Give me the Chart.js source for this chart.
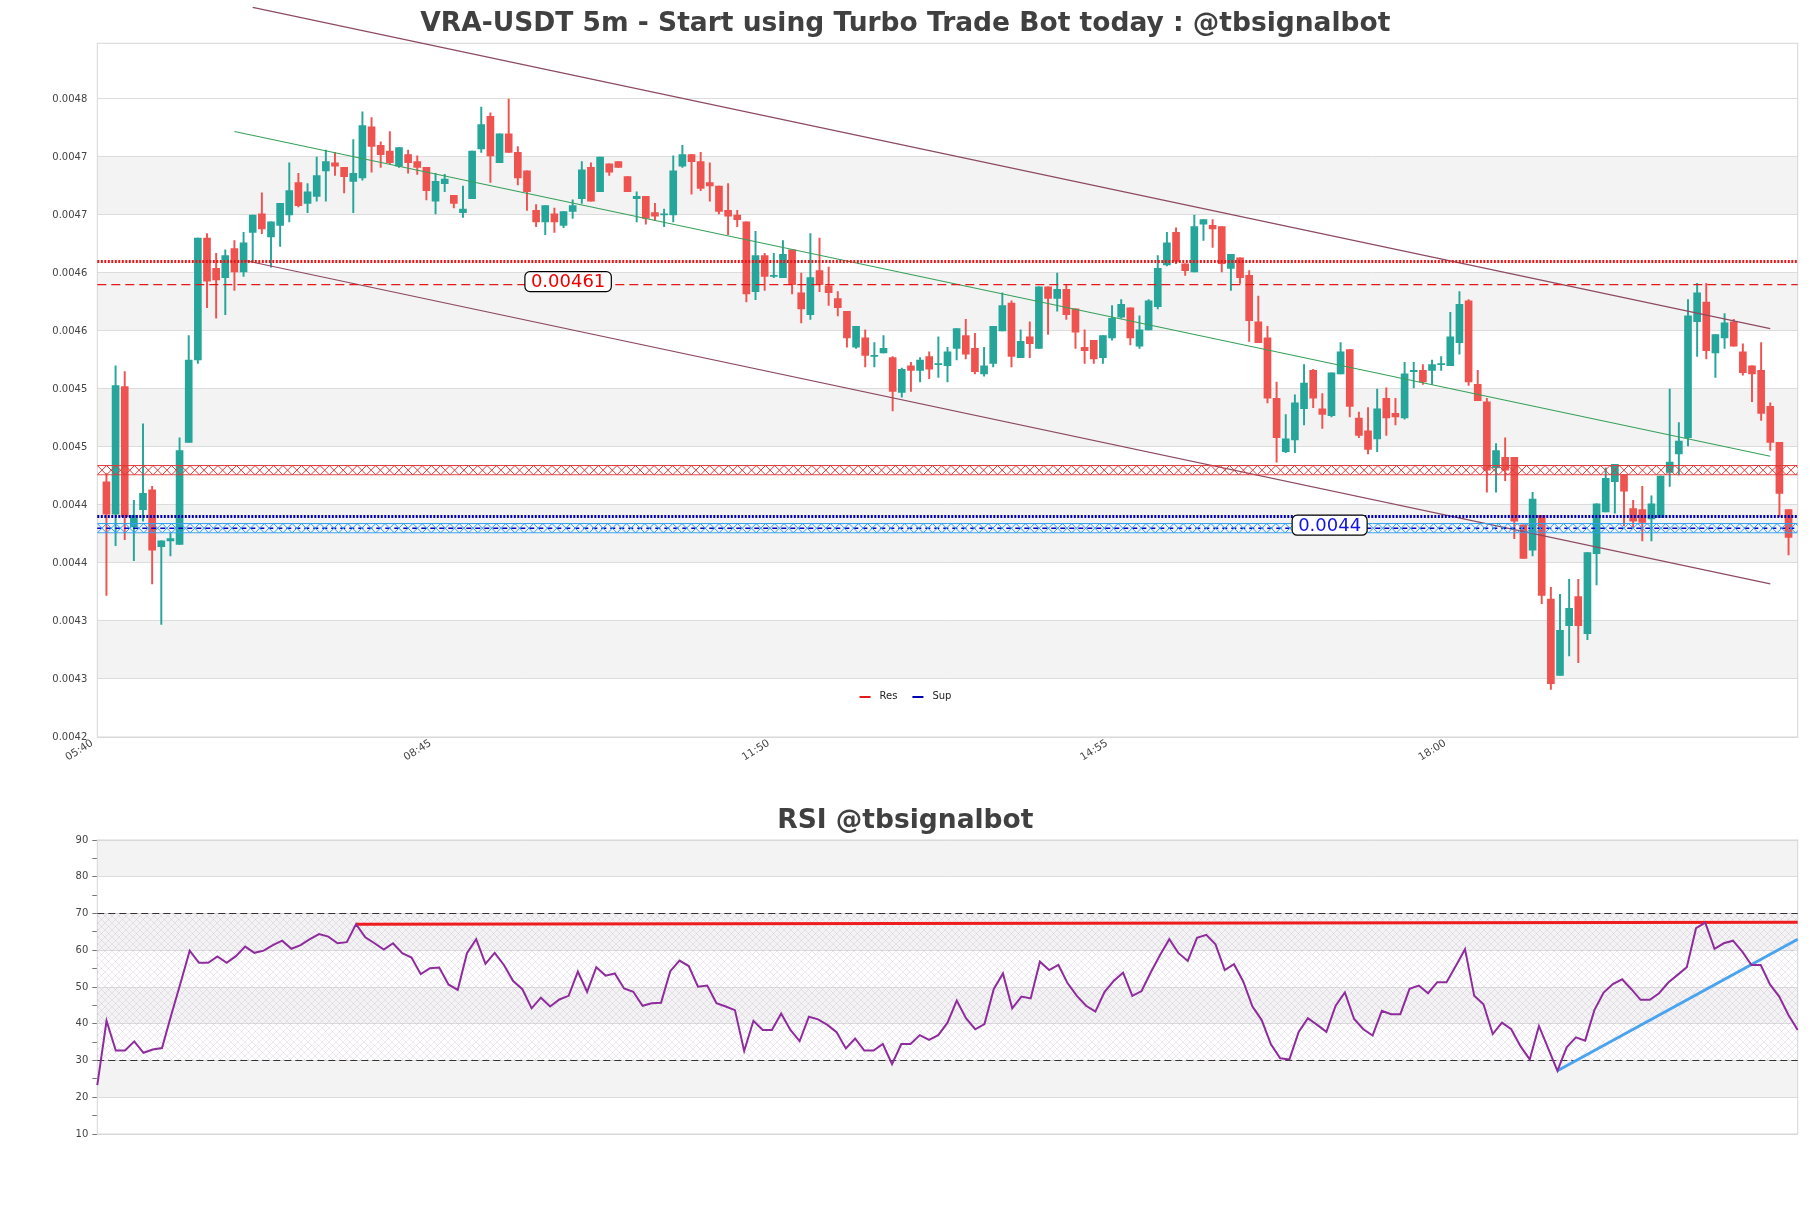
<!DOCTYPE html>
<html>
<head>
<meta charset="utf-8">
<title>VRA-USDT 5m</title>
<script src="https://cdn.jsdelivr.net/npm/chart.js@4.4.0/dist/chart.umd.min.js"></script>
<style>
  html, body { margin: 0; padding: 0; background: #fff; }
  #wrap { position: relative; width: 1811px; height: 1208px; }
  #priceBox { position: absolute; left: 0; top: 0; width: 1811px; height: 790px; }
  #rsiBox { position: absolute; left: 0; top: 790px; width: 1811px; height: 418px; }
</style>
</head>
<body>
<div id="wrap">
  <div id="priceBox"><canvas id="priceChart"></canvas></div>
  <div id="rsiBox"><canvas id="rsiChart"></canvas></div>
</div>
<script>
// Bougies 5m, de 05:45 à 21:05
const opens = [0.004440, 0.004412, 0.004522, 0.004401, 0.004416, 0.004433, 0.004384, 0.004389, 0.004386, 0.004474,
  0.004545, 0.004650, 0.004624, 0.004616, 0.004641, 0.004621, 0.004655, 0.004671, 0.004651, 0.004661,
  0.004670, 0.004698, 0.004680, 0.004686, 0.004708, 0.004715, 0.004711, 0.004699, 0.004702, 0.004746,
  0.004730, 0.004725, 0.004712, 0.004722, 0.004716, 0.004711, 0.004682, 0.004697, 0.004687, 0.004672,
  0.004684, 0.004727, 0.004755, 0.004715, 0.004740, 0.004724, 0.004708, 0.004674, 0.004664, 0.004671,
  0.004661, 0.004673, 0.004684, 0.004711, 0.004690, 0.004714, 0.004716, 0.004703, 0.004684, 0.004686,
  0.004672, 0.004670, 0.004670, 0.004712, 0.004722, 0.004716, 0.004698, 0.004695, 0.004674, 0.004670,
  0.004664, 0.004604, 0.004635, 0.004617, 0.004616, 0.004640, 0.004603, 0.004584, 0.004622, 0.004609,
  0.004598, 0.004587, 0.004556, 0.004564, 0.004548, 0.004551, 0.004547, 0.004517, 0.004540, 0.004536,
  0.004548, 0.004541, 0.004540, 0.004555, 0.004566, 0.004555, 0.004533, 0.004542, 0.004570, 0.004594,
  0.004547, 0.004565, 0.004555, 0.004608, 0.004598, 0.004606, 0.004589, 0.004556, 0.004562, 0.004547,
  0.004564, 0.004582, 0.004590, 0.004557, 0.004571, 0.004591, 0.004627, 0.004655, 0.004628, 0.004621,
  0.004662, 0.004661, 0.004660, 0.004624, 0.004633, 0.004618, 0.004578, 0.004564, 0.004512, 0.004466,
  0.004476, 0.004503, 0.004536, 0.004503, 0.004497, 0.004533, 0.004554, 0.004495, 0.004484, 0.004477,
  0.004512, 0.004499, 0.004495, 0.004535, 0.004536, 0.004536, 0.004541, 0.004540, 0.004560, 0.004596,
  0.004524, 0.004509, 0.004452, 0.004461, 0.004461, 0.004403, 0.004381, 0.004411, 0.004339, 0.004273,
  0.004316, 0.004341, 0.004309, 0.004378, 0.004414, 0.004440, 0.004446, 0.004417, 0.004416, 0.004408,
  0.004409, 0.004448, 0.004464, 0.004478, 0.004578, 0.004595, 0.004551, 0.004564, 0.004578, 0.004552,
  0.004540, 0.004536, 0.004505, 0.004474, 0.004416];
const highs = [0.004447, 0.004540, 0.004535, 0.004424, 0.004490, 0.004436, 0.004389, 0.004396, 0.004478, 0.004566,
  0.004650, 0.004654, 0.004637, 0.004640, 0.004648, 0.004655, 0.004670, 0.004689, 0.004664, 0.004680,
  0.004715, 0.004706, 0.004697, 0.004720, 0.004726, 0.004724, 0.004711, 0.004735, 0.004759, 0.004754,
  0.004733, 0.004742, 0.004728, 0.004726, 0.004721, 0.004711, 0.004706, 0.004705, 0.004687, 0.004695,
  0.004725, 0.004763, 0.004758, 0.004740, 0.004770, 0.004729, 0.004708, 0.004679, 0.004678, 0.004676,
  0.004673, 0.004683, 0.004716, 0.004715, 0.004720, 0.004714, 0.004716, 0.004703, 0.004690, 0.004686,
  0.004680, 0.004675, 0.004721, 0.004730, 0.004722, 0.004724, 0.004715, 0.004695, 0.004697, 0.004674,
  0.004664, 0.004656, 0.004637, 0.004637, 0.004648, 0.004640, 0.004620, 0.004654, 0.004650, 0.004625,
  0.004604, 0.004587, 0.004574, 0.004571, 0.004560, 0.004566, 0.004548, 0.004538, 0.004543, 0.004547,
  0.004552, 0.004565, 0.004556, 0.004572, 0.004580, 0.004568, 0.004556, 0.004574, 0.004603, 0.004596,
  0.004571, 0.004578, 0.004608, 0.004608, 0.004620, 0.004610, 0.004589, 0.004571, 0.004562, 0.004566,
  0.004592, 0.004597, 0.004590, 0.004583, 0.004597, 0.004635, 0.004655, 0.004659, 0.004628, 0.004670,
  0.004666, 0.004666, 0.004660, 0.004636, 0.004633, 0.004622, 0.004600, 0.004574, 0.004526, 0.004498,
  0.004515, 0.004541, 0.004537, 0.004516, 0.004534, 0.004560, 0.004554, 0.004500, 0.004504, 0.004520,
  0.004521, 0.004512, 0.004543, 0.004543, 0.004541, 0.004545, 0.004548, 0.004586, 0.004604, 0.004597,
  0.004536, 0.004512, 0.004473, 0.004478, 0.004461, 0.004403, 0.004431, 0.004411, 0.004349, 0.004343,
  0.004356, 0.004356, 0.004379, 0.004421, 0.004452, 0.004455, 0.004446, 0.004424, 0.004436, 0.004428,
  0.004445, 0.004520, 0.004491, 0.004597, 0.004611, 0.004611, 0.004567, 0.004585, 0.004580, 0.004559,
  0.004540, 0.004560, 0.004508, 0.004474, 0.004416];
const lows = [0.004342, 0.004385, 0.004390, 0.004372, 0.004406, 0.004352, 0.004317, 0.004376, 0.004386, 0.004474,
  0.004542, 0.004590, 0.004581, 0.004584, 0.004605, 0.004617, 0.004630, 0.004654, 0.004625, 0.004643,
  0.004664, 0.004677, 0.004672, 0.004682, 0.004682, 0.004704, 0.004689, 0.004672, 0.004700, 0.004707,
  0.004711, 0.004714, 0.004711, 0.004706, 0.004705, 0.004683, 0.004671, 0.004690, 0.004676, 0.004668,
  0.004684, 0.004724, 0.004698, 0.004715, 0.004724, 0.004696, 0.004674, 0.004660, 0.004653, 0.004655,
  0.004659, 0.004667, 0.004680, 0.004682, 0.004690, 0.004704, 0.004711, 0.004690, 0.004664, 0.004662,
  0.004665, 0.004660, 0.004664, 0.004711, 0.004688, 0.004691, 0.004682, 0.004671, 0.004653, 0.004660,
  0.004595, 0.004597, 0.004605, 0.004616, 0.004616, 0.004602, 0.004577, 0.004580, 0.004604, 0.004592,
  0.004583, 0.004556, 0.004555, 0.004539, 0.004539, 0.004551, 0.004501, 0.004513, 0.004518, 0.004526,
  0.004529, 0.004530, 0.004526, 0.004545, 0.004546, 0.004533, 0.004531, 0.004539, 0.004570, 0.004539,
  0.004547, 0.004547, 0.004555, 0.004567, 0.004587, 0.004580, 0.004555, 0.004542, 0.004542, 0.004542,
  0.004562, 0.004581, 0.004558, 0.004555, 0.004571, 0.004589, 0.004626, 0.004628, 0.004618, 0.004621,
  0.004648, 0.004642, 0.004621, 0.004605, 0.004611, 0.004561, 0.004560, 0.004508, 0.004457, 0.004465,
  0.004465, 0.004489, 0.004504, 0.004486, 0.004496, 0.004533, 0.004496, 0.004478, 0.004464, 0.004466,
  0.004480, 0.004489, 0.004494, 0.004521, 0.004524, 0.004524, 0.004536, 0.004540, 0.004550, 0.004523,
  0.004510, 0.004431, 0.004431, 0.004441, 0.004391, 0.004374, 0.004376, 0.004335, 0.004261, 0.004273,
  0.004290, 0.004284, 0.004304, 0.004351, 0.004414, 0.004413, 0.004402, 0.004400, 0.004389, 0.004389,
  0.004409, 0.004436, 0.004446, 0.004471, 0.004548, 0.004546, 0.004530, 0.004555, 0.004557, 0.004532,
  0.004509, 0.004493, 0.004467, 0.004410, 0.004377];
const closes = [0.004412, 0.004523, 0.004410, 0.004411, 0.004430, 0.004381, 0.004389, 0.004391, 0.004467, 0.004545,
  0.004650, 0.004613, 0.004614, 0.004635, 0.004621, 0.004646, 0.004670, 0.004658, 0.004664, 0.004680,
  0.004691, 0.004678, 0.004690, 0.004704, 0.004716, 0.004712, 0.004703, 0.004706, 0.004747, 0.004729,
  0.004722, 0.004715, 0.004728, 0.004715, 0.004711, 0.004691, 0.004699, 0.004701, 0.004680, 0.004675,
  0.004725, 0.004748, 0.004721, 0.004740, 0.004724, 0.004702, 0.004690, 0.004664, 0.004678, 0.004664,
  0.004673, 0.004678, 0.004709, 0.004682, 0.004720, 0.004707, 0.004711, 0.004690, 0.004686, 0.004667,
  0.004669, 0.004671, 0.004708, 0.004722, 0.004716, 0.004693, 0.004695, 0.004673, 0.004669, 0.004666,
  0.004602, 0.004635, 0.004617, 0.004618, 0.004636, 0.004610, 0.004589, 0.004616, 0.004610, 0.004603,
  0.004590, 0.004564, 0.004574, 0.004549, 0.004549, 0.004555, 0.004518, 0.004537, 0.004536, 0.004545,
  0.004537, 0.004542, 0.004552, 0.004572, 0.004550, 0.004535, 0.004540, 0.004574, 0.004592, 0.004548,
  0.004561, 0.004559, 0.004608, 0.004598, 0.004606, 0.004584, 0.004569, 0.004553, 0.004546, 0.004566,
  0.004581, 0.004593, 0.004564, 0.004571, 0.004596, 0.004624, 0.004646, 0.004630, 0.004622, 0.004660,
  0.004666, 0.004658, 0.004628, 0.004636, 0.004616, 0.004579, 0.004560, 0.004512, 0.004478, 0.004477,
  0.004508, 0.004525, 0.004512, 0.004498, 0.004534, 0.004552, 0.004505, 0.004480, 0.004468, 0.004503,
  0.004495, 0.004496, 0.004533, 0.004536, 0.004526, 0.004541, 0.004542, 0.004565, 0.004593, 0.004526,
  0.004510, 0.004450, 0.004467, 0.004450, 0.004406, 0.004374, 0.004425, 0.004342, 0.004266, 0.004312,
  0.004331, 0.004316, 0.004379, 0.004421, 0.004443, 0.004455, 0.004432, 0.004406, 0.004405, 0.004421,
  0.004445, 0.004457, 0.004475, 0.004583, 0.004603, 0.004553, 0.004567, 0.004577, 0.004557, 0.004534,
  0.004533, 0.004499, 0.004474, 0.004430, 0.004392];

// Axe des temps (index de bougie -> libellé)
const timeTickPos = [-1, 36, 73, 110, 147];
const timeTickLabels = ['05:40', '08:45', '11:50', '14:55', '18:00'];

// Axe des prix
const priceTicks = [0.00422, 0.00427, 0.00432, 0.00437, 0.00442, 0.00447, 0.00452, 0.00457, 0.00462, 0.00467, 0.00472, 0.00477];
const priceBands = [[0.00427, 0.00432], [0.00437, 0.00442], [0.00447, 0.00452], [0.00457, 0.00462], [0.00467, 0.00472]];

// Résistances / supports
const resLevel = 0.00463;
const resPrice = 0.00461;
const resZone = [0.004446, 0.004454];
const supLevel = 0.00441;
const supPrice = 0.0044;
const supZone = [0.004396, 0.004404];

// Canal de tendance : [index, prix]
const channelTop = [[16, 0.004849], [182, 0.004572]];
const channelBottom = [[15, 0.004631], [182, 0.004352]];
const channelMid = [[14, 0.004742], [182, 0.004462]];

// RSI
const rsiValues = [23.3, 40.8, 32.7, 32.7, 35.2, 32.1, 33.0, 33.4, 42.4, 51.0,
  59.9, 56.6, 56.6, 58.3, 56.6, 58.4, 61.0, 59.3, 59.9, 61.4,
  62.6, 60.4, 61.4, 63.0, 64.4, 63.7, 61.9, 62.2, 67.1, 63.5,
  61.9, 60.2, 61.9, 59.2, 58.0, 53.5, 55.1, 55.3, 50.7, 49.2,
  59.2, 63.0, 56.3, 59.3, 56.0, 51.6, 49.4, 44.2, 47.1, 44.7,
  46.6, 47.6, 54.2, 48.7, 55.4, 53.1, 53.7, 49.6, 48.7, 44.9,
  45.6, 45.7, 54.3, 57.2, 55.7, 50.1, 50.4, 45.6, 44.7, 43.7,
  32.6, 40.8, 38.3, 38.3, 42.8, 38.3, 35.3, 41.9, 41.2, 39.7,
  37.7, 33.3, 36.0, 32.7, 32.7, 34.5, 29.0, 34.5, 34.5, 36.9,
  35.6, 36.9, 40.3, 46.3, 41.5, 38.5, 39.9, 49.4, 53.7, 44.2,
  47.4, 46.9, 56.9, 54.6, 56.0, 51.0, 47.6, 44.9, 43.3, 48.7,
  51.7, 53.9, 47.6, 48.9, 54.0, 58.7, 63.0, 59.2, 57.1, 63.4,
  64.2, 61.6, 54.6, 56.2, 51.5, 44.7, 41.0, 34.4, 30.6, 30.3,
  37.8, 41.5, 39.7, 37.8, 44.9, 48.5, 41.3, 38.5, 36.8, 43.5,
  42.6, 42.6, 49.5, 50.4, 48.3, 51.3, 51.3, 55.7, 60.3, 47.6,
  45.3, 37.2, 40.3, 38.5, 33.9, 30.3, 39.4, 33.3, 27.2, 33.6,
  36.3, 35.4, 43.7, 48.5, 50.8, 52.1, 49.4, 46.5, 46.5, 48.3,
  51.2, 53.3, 55.4, 66.0, 67.5, 60.4, 61.9, 62.6, 59.6, 56.0,
  56.0, 50.7, 47.4, 42.4, 38.3];
const rsiBands = [[20, 30], [40, 50], [60, 70], [80, 90]];
const rsiLevels = [30, 70];
const rsiResLine = [[28, 67.1], [184, 67.6]];
const rsiSupLine = [[158, 27.2], [184, 63.0]];

const FONT = 'DejaVu Sans';
const UP = '#26a69a';
const DOWN = '#ef5350';
const RED = '#e31a1c';
const BLUE = '#0000b0';

// ---------- plugins ----------
const bandsPlugin = {
  id: 'bands',
  beforeDraw(chart, args, opts) {
    const { ctx, chartArea: a, scales: { y } } = chart;
    ctx.save();
    ctx.fillStyle = opts.color;
    opts.bands.forEach(([lo, hi]) => {
      const top = y.getPixelForValue(hi);
      const bot = y.getPixelForValue(lo);
      ctx.fillRect(a.left, top, a.right - a.left, bot - top);
    });
    ctx.restore();
  }
};

const framePlugin = {
  id: 'frame',
  beforeDatasetsDraw(chart) {
    const { ctx, chartArea: a } = chart;
    ctx.save();
    ctx.strokeStyle = '#d6d6d6';
    ctx.lineWidth = 1;
    ctx.strokeRect(a.left, a.top, a.right - a.left, a.bottom - a.top);
    ctx.restore();
  }
};

// zones hachurées (x) entre deux prix
const zonesPlugin = {
  id: 'zones',
  afterDatasetsDraw(chart, args, opts) {
    const { ctx, chartArea: a, scales: { y } } = chart;
    opts.zones.forEach(z => {
      const top = y.getPixelForValue(z.range[1]);
      const bot = y.getPixelForValue(z.range[0]);
      const cell = bot - top;
      ctx.save();
      ctx.beginPath();
      ctx.rect(a.left, top - 1, a.right - a.left, cell + 2);
      ctx.clip();
      ctx.strokeStyle = z.color;
      ctx.lineWidth = 1;
      ctx.beginPath();
      for (let x = a.left; x < a.right; x += cell) {
        ctx.moveTo(x, top); ctx.lineTo(x + cell, bot);
        ctx.moveTo(x + cell, top); ctx.lineTo(x, bot);
      }
      ctx.moveTo(a.left, top); ctx.lineTo(a.right, top);
      ctx.moveTo(a.left, bot); ctx.lineTo(a.right, bot);
      ctx.stroke();
      ctx.restore();
    });
  }
};

function roundBox(ctx, x, y, w, h, r) {
  ctx.beginPath();
  ctx.moveTo(x + r, y);
  ctx.arcTo(x + w, y, x + w, y + h, r);
  ctx.arcTo(x + w, y + h, x, y + h, r);
  ctx.arcTo(x, y + h, x, y, r);
  ctx.arcTo(x, y, x + w, y, r);
  ctx.closePath();
}

// étiquettes de prix
const tagsPlugin = {
  id: 'tags',
  afterDatasetsDraw(chart, args, opts) {
    const { ctx, scales: { x, y } } = chart;
    ctx.save();
    ctx.font = '18px "' + FONT + '"';
    ctx.textAlign = 'center';
    ctx.textBaseline = 'middle';
    opts.tags.forEach(t => {
      const text = String(t.value);
      const cx = x.getPixelForValue(t.at);
      const cy = y.getPixelForValue(t.value) - 3;
      const w = ctx.measureText(text).width + 12;
      const h = 20;
      roundBox(ctx, cx - w / 2, cy - h / 2, w, h, 5);
      ctx.fillStyle = '#fff';
      ctx.fill();
      ctx.strokeStyle = '#000';
      ctx.lineWidth = 1.2;
      ctx.stroke();
      ctx.fillStyle = t.color;
      ctx.fillText(text, cx, cy + 1);
    });
    ctx.restore();
  }
};

// petite légende Res / Sup, centrée sur la figure
const miniLegendPlugin = {
  id: 'miniLegend',
  afterDraw(chart, args, opts) {
    const { ctx, chartArea: a } = chart;
    ctx.save();
    ctx.font = '10px "' + FONT + '"';
    ctx.textBaseline = 'middle';
    const widths = opts.items.map(it => 11 + 9 + ctx.measureText(it.label).width);
    const total = widths.reduce((s, w) => s + w, 0) + 15 * (opts.items.length - 1);
    let x = chart.width / 2 - total / 2;
    const y = a.bottom - 41;
    opts.items.forEach((it, k) => {
      ctx.strokeStyle = it.color;
      ctx.lineWidth = 2;
      ctx.beginPath();
      ctx.moveTo(x, y + 1); ctx.lineTo(x + 11, y + 1);
      ctx.stroke();
      ctx.fillStyle = '#222';
      ctx.fillText(it.label, x + 20, y);
      x += widths[k] + 15;
    });
    ctx.restore();
  }
};

// hachures de la zone 30-70 du RSI
const rsiHatchPlugin = {
  id: 'rsiHatch',
  beforeDatasetsDraw(chart, args, opts) {
    const { ctx, chartArea: a, scales: { y } } = chart;
    const tile = document.createElement('canvas');
    tile.width = 7; tile.height = 7;
    const g = tile.getContext('2d');
    g.strokeStyle = opts.color;
    g.lineWidth = 0.8;
    g.beginPath();
    g.moveTo(0, 0); g.lineTo(7, 7);
    g.moveTo(7, 0); g.lineTo(0, 7);
    g.stroke();
    const top = y.getPixelForValue(opts.range[1]);
    const bot = y.getPixelForValue(opts.range[0]);
    ctx.save();
    ctx.fillStyle = ctx.createPattern(tile, 'repeat');
    ctx.fillRect(a.left, top, a.right - a.left, bot - top);
    ctx.restore();
  }
};

// ---------- graphique des prix ----------
const candleColors = opens.map((o, i) => closes[i] >= o ? UP : DOWN);
const bodies = opens.map((o, i) => ({ x: i, y: [o, closes[i]] }));
const wicks = lows.map((l, i) => ({ x: i, y: [l, highs[i]] }));
const xMin = timeTickPos[0];
const xMax = opens.length;

function flat(v) {
  return [{ x: xMin, y: v }, { x: xMax, y: v }];
}
function seg(pts) {
  return pts.map(p => ({ x: p[0], y: p[1] }));
}
function lineSet(data, color, width, dash) {
  return {
    type: 'line', data, borderColor: color, borderWidth: width, borderDash: dash || [],
    pointRadius: 0, fill: false, tension: 0, clip: false, order: 1
  };
}

Chart.defaults.font.family = FONT;

new Chart(document.getElementById('priceChart'), {
  data: {
    datasets: [
      { type: 'bar', label: 'body', data: bodies, backgroundColor: candleColors,
        barThickness: 7, grouped: false, minBarLength: 1, order: 2 },
      { type: 'bar', label: 'wick', data: wicks, backgroundColor: candleColors,
        barThickness: 1.3, grouped: false, order: 3 },
      lineSet(flat(resLevel), RED, 3, [2, 1.5]),
      lineSet(flat(resPrice), RED, 1.3, [9, 5]),
      lineSet(flat(supLevel), BLUE, 3, [2, 1.5]),
      lineSet(flat(supPrice), '#0000cc', 1.4, [5, 4]),
      lineSet(seg(channelTop), '#8d4a62', 1.2),
      lineSet(seg(channelBottom), '#8d4a62', 1.2),
      lineSet(seg(channelMid), '#37a05a', 1.2)
    ]
  },
  options: {
    responsive: true,
    maintainAspectRatio: false,
    animation: false,
    devicePixelRatio: 1,
    events: [],
    layout: { padding: { left: 13, right: 13.3, top: 0, bottom: 0 } },
    plugins: {
      legend: { display: false },
      tooltip: { enabled: false },
      title: {
        display: true,
        text: 'VRA-USDT 5m - Start using Turbo Trade Bot today : @tbsignalbot',
        color: '#404040',
        font: { family: FONT, size: 26.5, weight: 'bold' },
        padding: { top: 8, bottom: 3.5 }
      },
      bands: { bands: priceBands, color: '#f3f3f3' },
      zones: { zones: [
        { range: resZone, color: '#e03a3a' },
        { range: supZone, color: '#2f9ff0' }
      ] },
      tags: { tags: [
        { value: resPrice, at: 50.5, color: '#ee0000' },
        { value: supPrice, at: 133.8, color: '#1414e0' }
      ] },
      miniLegend: { items: [
        { label: 'Res', color: RED },
        { label: 'Sup', color: BLUE }
      ] }
    },
    scales: {
      x: {
        type: 'linear',
        min: xMin,
        max: xMax,
        offset: false,
        grid: { display: false, offset: false },
        border: { display: false },
        afterBuildTicks: s => { s.ticks = timeTickPos.map(v => ({ value: v })); },
        afterFit: s => { s.height = 53; },
        ticks: {
          autoSkip: false,
          maxRotation: 32,
          minRotation: 32,
          padding: -8,
          labelOffset: -5,
          color: '#444',
          font: { size: 10.5 },
          callback: v => {
            const k = timeTickPos.indexOf(v);
            return k >= 0 ? timeTickLabels[k] : '';
          }
        }
      },
      y: {
        type: 'linear',
        min: 0.00422,
        max: 0.004818,
        grid: { color: '#dcdcdc', drawTicks: false },
        border: { display: false },
        afterBuildTicks: s => { s.ticks = priceTicks.map(v => ({ value: v })); },
        afterFit: s => { s.width = 84.3; },
        ticks: {
          padding: 10,
          color: '#444',
          font: { size: 10 },
          callback: v => v.toFixed(4)
        }
      }
    }
  },
  plugins: [bandsPlugin, framePlugin, zonesPlugin, tagsPlugin, miniLegendPlugin]
});

// ---------- RSI ----------
const rsiPoints = rsiValues.map((v, j) => ({ x: j, y: v }));
const rsiLast = rsiValues.length - 1;

new Chart(document.getElementById('rsiChart'), {
  type: 'line',
  data: {
    datasets: [
      lineSet(rsiPoints, '#8e2c9c', 2),
      lineSet(seg(rsiResLine), '#ee1c1c', 3),
      lineSet(seg(rsiSupLine), '#4ba3ee', 3),
      ...rsiLevels.map(v => lineSet([{ x: 0, y: v }, { x: rsiLast, y: v }], '#333', 1.2, [7, 4]))
    ]
  },
  options: {
    responsive: true,
    maintainAspectRatio: false,
    animation: false,
    devicePixelRatio: 1,
    events: [],
    layout: { padding: { left: 13, right: 13.3, top: 0, bottom: 74 } },
    plugins: {
      legend: { display: false },
      tooltip: { enabled: false },
      title: {
        display: true,
        text: 'RSI @tbsignalbot',
        color: '#404040',
        font: { family: FONT, size: 26.5, weight: 'bold' },
        padding: { top: 15, bottom: 3.2 }
      },
      bands: { bands: rsiBands, color: '#f3f3f3' },
      rsiHatch: { range: rsiLevels, color: 'rgba(150, 120, 175, 0.22)' }
    },
    scales: {
      x: { type: 'linear', min: 0, max: rsiLast, display: false, offset: false },
      y: {
        type: 'linear',
        min: 10,
        max: 90,
        border: { display: false },
        afterFit: s => { s.width = 84.3; },
        grid: {
          color: c => c.tick && c.tick.value % 10 === 0 ? '#dcdcdc' : 'rgba(0,0,0,0)',
          tickColor: '#777',
          tickLength: 5
        },
        ticks: {
          stepSize: 5,
          padding: 4,
          color: '#444',
          font: { size: 10 },
          callback: v => v % 10 === 0 ? String(v) : ''
        }
      }
    }
  },
  plugins: [bandsPlugin, framePlugin, rsiHatchPlugin]
});
</script>
</body>
</html>
